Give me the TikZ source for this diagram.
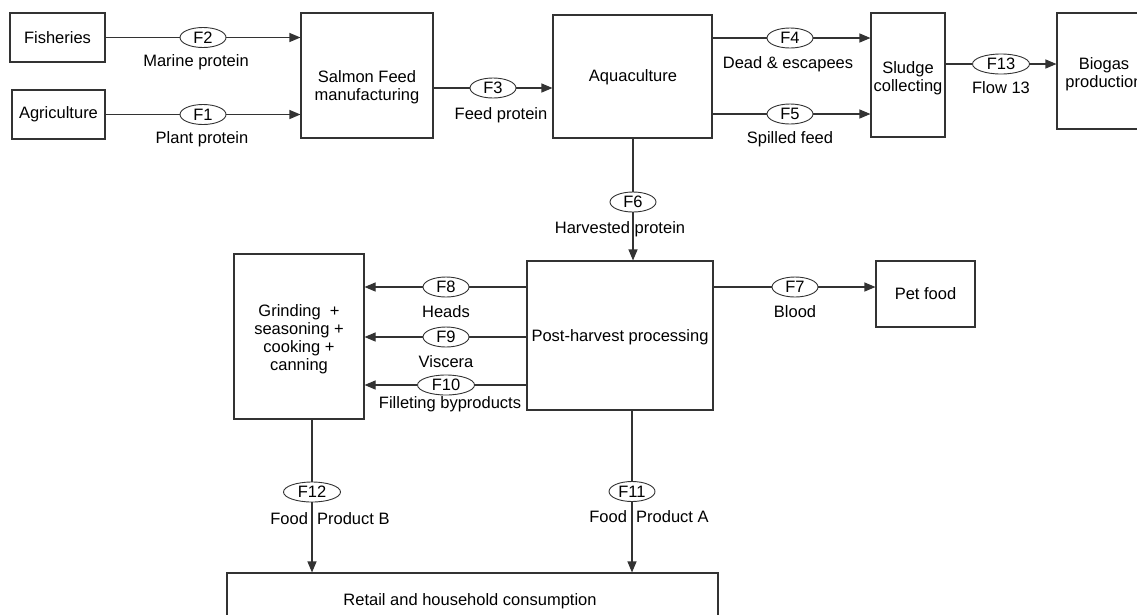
\documentclass[tikz,border=0pt]{standalone}
\usepackage{fontspec}
\setmainfont{Liberation Sans}
\usetikzlibrary{shapes.geometric,arrows.meta}
\definecolor{ln}{HTML}{333333}
\begin{document}
\begin{tikzpicture}[x=1pt,y=-1pt,
  every node/.style={font=\fontsize{16.5}{18}\selectfont, text=black},
  box/.style={draw=ln, line width=1.1pt, rectangle, inner sep=0pt, align=center},
  flow/.style={draw=ln, line width=0.9pt, ellipse, fill=white, inner sep=0pt, minimum width=46pt, minimum height=20pt},
  wide/.style={minimum width=57pt},
  lab/.style={inner sep=0pt, anchor=center},
  con/.style={draw=ln, line width=1.1pt},
  arr/.style={con, -{Triangle[length=11pt,width=9pt]}}
]
\useasboundingbox (0,0) rectangle (1137,614);
\fill[white] (0,0) rectangle (1137,614);

% boxes
\node[box, minimum width=95pt, minimum height=49pt] (fish) at (57.5,37.5) {Fisheries};
\node[box, minimum width=93pt, minimum height=49pt] (agri) at (58.5,114.5) {Agriculture};
\node[box, minimum width=132pt, minimum height=125pt] (salmon) at (367,75.5) {};
\node[lab, align=center] (salmontxt) at (367,87.5) {Salmon Feed\\manufacturing};
\node[box, minimum width=159pt, minimum height=123pt] (aqua) at (632.5,76.5) {};
\node[lab] (aquatxt) at (633,77) {Aquaculture};
\node[box, minimum width=74pt, minimum height=124pt] (sludge) at (908,75) {};
\node[lab, align=center] (sludgetxt) at (908,78) {Sludge\\collecting};
\node[box, minimum width=106pt, minimum height=116pt] (biogas) at (1110,71) {};
\node[lab, align=center] (biogastxt) at (1104,74) {Biogas\\production};
\node[box, minimum width=186pt, minimum height=149pt] (post) at (620,335.5) {};
\node[lab] (posttxt) at (620,337) {Post-harvest processing};
\node[box, minimum width=130pt, minimum height=165pt] (grind) at (299,336.5) {};
\node[lab, align=center] (grindtxt) at (299,339.5) {Grinding \ +\\seasoning +\\cooking +\\canning};
\node[box, minimum width=99pt, minimum height=66pt] (pet) at (925.5,294) {Pet food};
\node[box, minimum width=491pt, minimum height=58pt] (retail) at (472.5,602) {};
\node[lab] (retailtxt) at (470,601) {Retail and household consumption};

% flow ellipses
\node[flow] (F2) at (203,37.5) {F2};
\node[flow] (F1) at (203,114.5) {F1};
\node[flow] (F3) at (493,88) {F3};
\node[flow] (F4) at (790,38) {F4};
\node[flow] (F5) at (790,114) {F5};
\node[flow, wide] (F13) at (1001,64) {F13};
\node[flow] (F6) at (633,202) {F6};
\node[flow] (F7) at (795,287) {F7};
\node[flow] (F8) at (446,287) {F8};
\node[flow] (F9) at (446,337) {F9};
\node[flow, wide] (F10) at (446,385) {F10};
\node[flow, wide] (F12) at (312,492) {F12};
\node[flow] (F11) at (632,491.5) {F11};

% connectors
\draw[con] (fish.east |- F2) -- (F2);
\draw[arr] (F2) -- (F2 -| salmon.west);
\draw[con] (agri.east |- F1) -- (F1);
\draw[arr] (F1) -- (F1 -| salmon.west);
\draw[con] (F3 -| salmon.east) -- (F3);
\draw[arr] (F3) -- (F3 -| aqua.west);
\draw[con] (F4 -| aqua.east) -- (F4);
\draw[arr] (F4) -- (F4 -| sludge.west);
\draw[con] (F5 -| aqua.east) -- (F5);
\draw[arr] (F5) -- (F5 -| sludge.west);
\draw[con] (F13 -| sludge.east) -- (F13);
\draw[arr] (F13) -- (F13 -| biogas.west);
\draw[con] (F6 |- aqua.south) -- (F6);
\draw[arr] (F6) -- (F6 |- post.north);
\draw[con] (F7 -| post.east) -- (F7);
\draw[arr] (F7) -- (F7 -| pet.west);
\draw[con] (F8 -| post.west) -- (F8);
\draw[arr] (F8) -- (F8 -| grind.east);
\draw[con] (F9 -| post.west) -- (F9);
\draw[arr] (F9) -- (F9 -| grind.east);
\draw[con] (F10 -| post.west) -- (F10);
\draw[arr] (F10) -- (F10 -| grind.east);
\draw[con] (F12 |- grind.south) -- (F12);
\draw[arr] (F12) -- (F12 |- retail.north);
\draw[con] (F11 |- post.south) -- (F11);
\draw[arr] (F11) -- (F11 |- retail.north);

% flow labels
\node[lab] (l2) at (196,62) {Marine protein};
\node[lab] (l1) at (202,139) {Plant protein};
\node[lab] (l3) at (501,115) {Feed protein};
\node[lab] (l4) at (788,64) {Dead \& escapees};
\node[lab] (l5) at (790,139) {Spilled feed};
\node[lab] (l13) at (1001,88) {Flow 13};
\node[lab] (l6) at (620,229) {Harvested protein};
\node[lab] (l7) at (795,312) {Blood};
\node[lab] (l8) at (446,312) {Heads};
\node[lab] (l9) at (446,362) {Viscera};
\node[lab] (l10) at (450,404) {Filleting byproducts};
\node[lab] (l12) at (330,519) {Food \ Product B};
\node[lab] (l11) at (649,517) {Food \ Product A};
\end{tikzpicture}
\end{document}
